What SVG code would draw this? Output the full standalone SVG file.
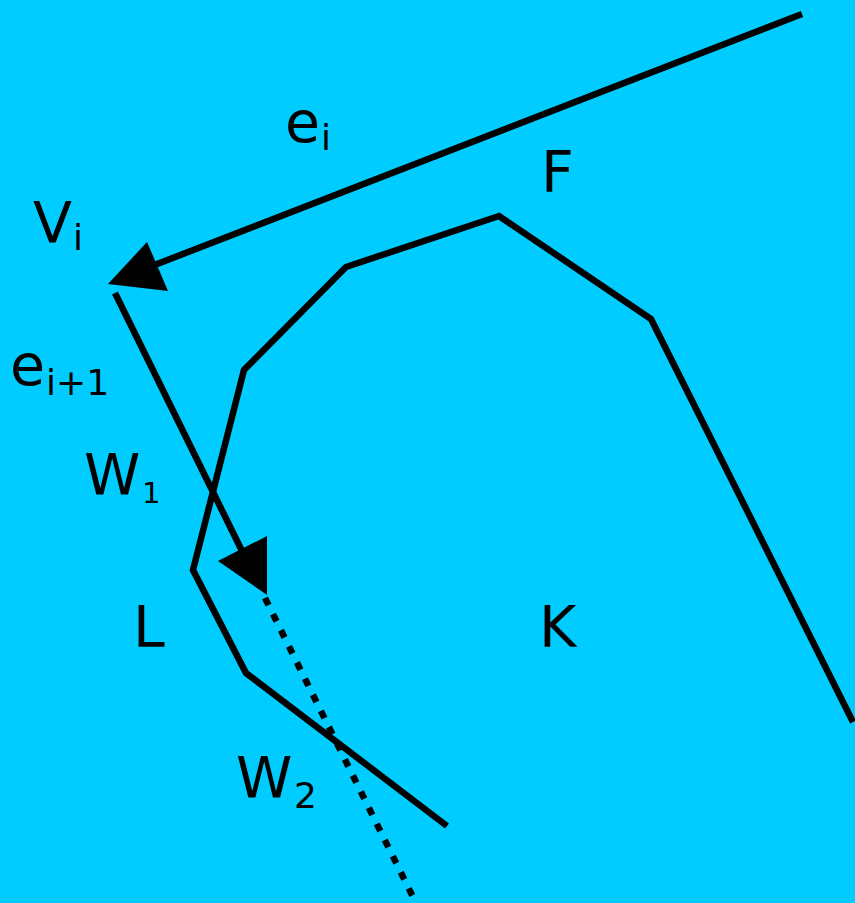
<svg xmlns="http://www.w3.org/2000/svg" width="855" height="903" viewBox="0 0 855 903">
<style>
.ln{fill:none;stroke:#000;stroke-width:6.5;stroke-linejoin:miter}
.dot{fill:none;stroke:#000;stroke-width:6.5;stroke-dasharray:8 10}
.ah{fill:#000;stroke:none}
.t{font-family:"DejaVu Sans",Verdana,sans-serif;font-size:57px;fill:#000}
.s{font-family:"DejaVu Sans",Verdana,sans-serif;fill:#000}
</style>
<rect width="855" height="903" fill="#00CCFF"/>
<g id="region">
<polyline class="ln" points="853,722 651,319 499,216 346,267 244,370 193,570 246,673 447,826"/>
</g>
<g id="connectors">
<line class="ln" x1="802" y1="14" x2="152" y2="266"/>
<polygon class="ah" points="108,284 147,242 168,291"/>
<line class="ln" x1="115" y1="293" x2="243" y2="553"/>
<polygon class="ah" points="218,561 267,536 267,595"/>
<line class="dot" x1="265" y1="598" x2="413" y2="897"/>
</g>
<g id="labels">
<text class="t" x="285" y="142">e</text><text class="s" font-size="36" x="321" y="150">i</text>
<text class="t" x="541" y="192">F</text>
<text class="t" x="33" y="243">V</text><text class="s" font-size="36" x="73" y="250">i</text>
<text class="t" x="10" y="385">e</text><text class="s" font-size="36" x="46" y="395">i+1</text>
<text class="t" x="84" y="495">W</text><text class="s" font-size="29" x="142" y="503">1</text>
<text class="t" x="133" y="647">L</text>
<text class="t" x="539" y="647">K</text>
<text class="t" x="236" y="798">W</text><text class="s" font-size="36" x="294" y="808">2</text>
</g>
</svg>
